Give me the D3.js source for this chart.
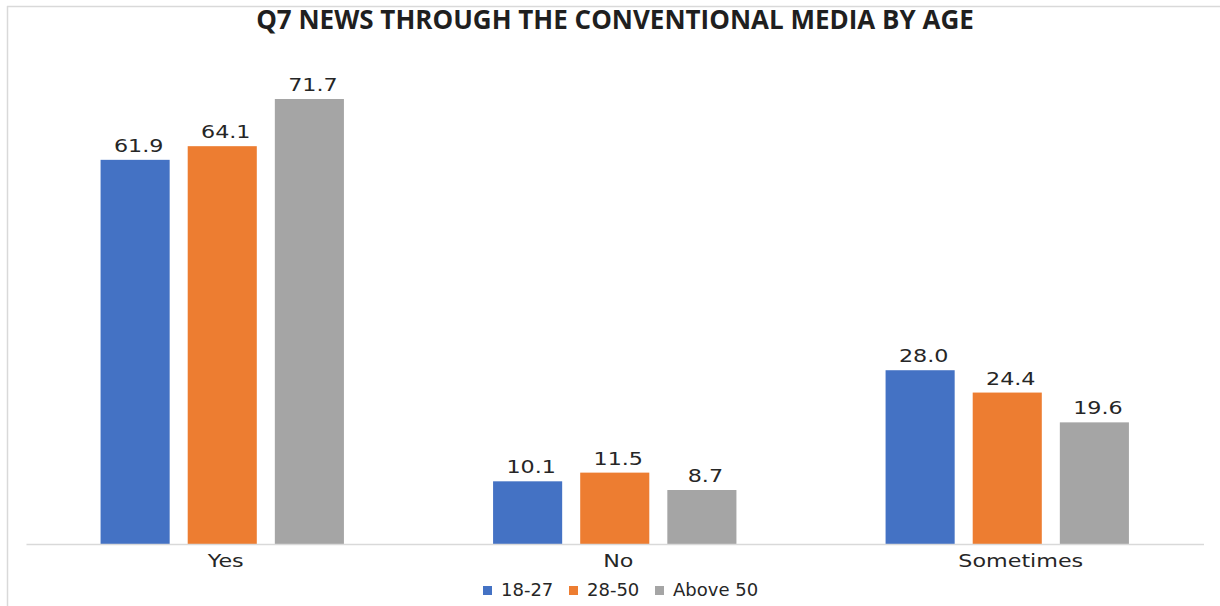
<!DOCTYPE html>
<html><head><meta charset="utf-8">
<script src="https://cdn.jsdelivr.net/npm/d3@7"></script>
<style>body{margin:0;background:#fff;} svg{display:block;}</style>
</head><body>
<script>
const categories = ["Yes", "No", "Sometimes"];
const seriesNames = ["18-27", "28-50", "Above 50"];
const values_18_27 = [61.9, 10.1, 28.0];
const values_28_50 = [64.1, 11.5, 24.4];
const values_above50 = [71.7, 8.7, 19.6];
const colors = ["#4472C4", "#ED7D31", "#A5A5A5"];
const title = "Q7 NEWS THROUGH THE CONVENTIONAL MEDIA BY AGE";

const seriesValues = [values_18_27, values_28_50, values_above50];
const W = 1220, H = 606;
const STRETCH = 1.27;
const TEXT_SHIFT = 3.5;
const svg = d3.select("body").append("svg").attr("width", W).attr("height", H);

// chart border
svg.append("line").attr("x1", 7.5).attr("x2", 7.5).attr("y1", 6).attr("y2", H).attr("stroke", "#d9d9d9").attr("stroke-width", 1.5);
svg.append("line").attr("x1", 7).attr("x2", W).attr("y1", 6.5).attr("y2", 6.5).attr("stroke", "#d9d9d9").attr("stroke-width", 1.5);

const x0 = d3.scaleBand().domain(categories).range([26, 1203.5]).paddingInner(0.38).paddingOuter(0.19);
const x1 = d3.scaleBand().domain(seriesNames).range([0, x0.bandwidth()]).paddingInner(0.207);
const y = d3.scaleLinear().domain([0, 80]).range([544, 47.5]);

svg.append("text").attr("x", 615).attr("y", 29).attr("text-anchor", "middle")
  .attr("font-family", "'Open Sans', sans-serif").attr("font-weight", "bold").attr("font-size", 26)
  .attr("fill", "#1f1f1f").text(title);

const groups = svg.selectAll("g.grp").data(categories).enter().append("g")
  .attr("transform", d => `translate(${x0(d)},0)`);
groups.each(function(cat, ci) {
  const g = d3.select(this);
  seriesNames.forEach((s, si) => {
    const v = seriesValues[si][ci];
    g.append("rect").attr("x", x1(s)).attr("width", x1.bandwidth())
      .attr("y", y(v)).attr("height", y(0) - y(v)).attr("fill", colors[si]);
    g.append("text")
      .attr("transform", `translate(${x1(s) + x1.bandwidth() / 2 + TEXT_SHIFT},${y(v) - 8}) scale(${STRETCH},1)`)
      .attr("text-anchor", "middle").attr("font-family", "'DejaVu Sans', sans-serif")
      .attr("font-size", 17.5).attr("fill", "#262626").text(v.toFixed(1));
  });
});

// x axis baseline and labels
const xAxis = d3.axisBottom(x0).tickSize(0).tickPadding(10);
const ax = svg.append("g").attr("transform", `translate(0,${y(0)})`).call(xAxis);
ax.select(".domain").attr("stroke", "#d9d9d9").attr("stroke-width", 1.5);
ax.selectAll("text").attr("y", 0).attr("dy", 0)
  .attr("transform", d => `translate(${TEXT_SHIFT + (d === "Sometimes" ? 10 : 0)},23) scale(${STRETCH},1)`)
  .attr("font-family", "'DejaVu Sans', sans-serif").attr("font-size", 17.5).attr("fill", "#262626");

// legend
const legendX = [483, 569, 655];
seriesNames.forEach((s, i) => {
  svg.append("rect").attr("x", legendX[i]).attr("y", 586).attr("width", 9).attr("height", 9).attr("fill", colors[i]);
  svg.append("text").attr("x", legendX[i] + 18).attr("y", 596).attr("font-family", "'DejaVu Sans', sans-serif")
    .attr("font-size", 18).attr("fill", "#262626").text(s);
});
</script>
</body></html>
